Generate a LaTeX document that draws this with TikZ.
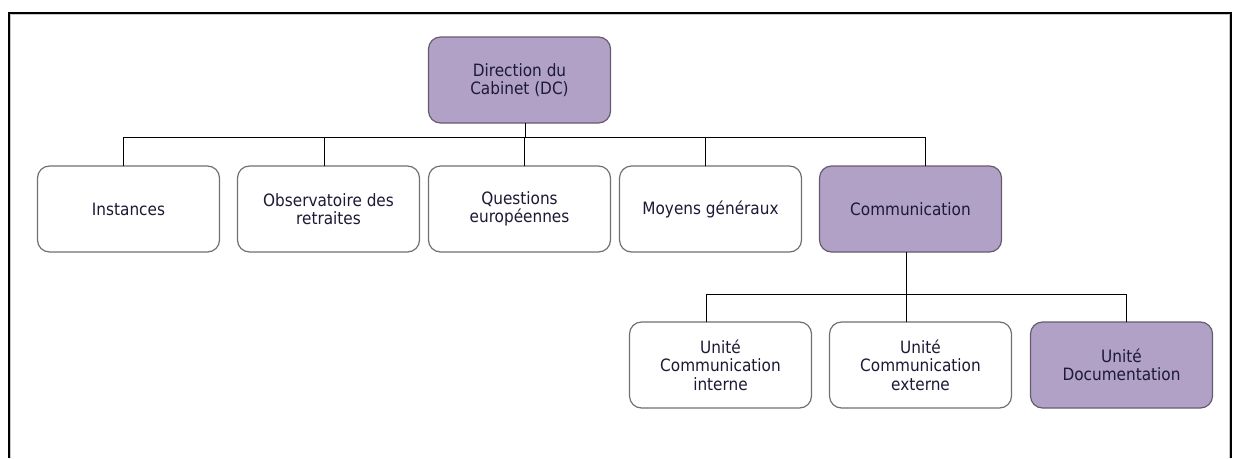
\documentclass[tikz,border=0pt]{standalone}
\usepackage{fontspec}
\setmainfont{DejaVu Sans Condensed}
\usepackage{tikz}
\usetikzlibrary{positioning}

\definecolor{dcpurple}{RGB}{177,161,199}
\definecolor{dcborder}{RGB}{100,92,110}
\definecolor{boxborder}{RGB}{112,112,112}
\definecolor{dctext}{RGB}{28,26,52}

\begin{document}
\begin{tikzpicture}[
  x=1pt, y=1pt,
  every node/.style={rectangle, rounded corners=12pt, draw=boxborder, line width=1.2pt,
    align=center, minimum width=182pt, minimum height=86pt, inner sep=0pt, outer sep=0pt,
    text=dctext, font=\fontsize{17}{18.5}\selectfont},
  unit/.style={fill=white},
  lead/.style={fill=dcpurple, draw=dcborder},
  link/.style={draw=black, line width=0.9pt}
]
\useasboundingbox (0,0) rectangle (1238,-458);

% Frame
\draw[gray!45, line width=1pt] (10.8,-458) -- (10.8,-14.2) -- (1229.2,-14.2) -- (1229.2,-458);
\draw[black, line width=2pt] (9.3,-458) -- (9.3,-12.7) -- (1230.7,-12.7) -- (1230.7,-458);

% Nodes
\node[lead] (dc) at (519.5,-80) {Direction du\\Cabinet (DC)};

\node[unit, below=43pt of dc] (questions) {Questions\\europ\'eennes};
\node[unit, left=9pt of questions] (observatoire) {Observatoire des\\retraites};
\node[unit, left=18pt of observatoire] (instances) {Instances};
\node[unit, right=9pt of questions] (moyens) {Moyens g\'en\'eraux};
\node[lead, right=18pt of moyens] (communication) {Communication};

\node[unit, below=70pt of communication, xshift=10pt] (externe) {Unit\'e\\Communication\\externe};
\node[unit, left=18pt of externe] (interne) {Unit\'e\\Communication\\interne};
\node[lead, right=19pt of externe] (documentation) {Unit\'e\\Documentation};

% Lines
\draw[link] ([xshift=5.5pt]dc.south) -- ++(0,-14) coordinate (bus);
\draw[link] ([xshift=-5pt]instances.north) |- (bus);
\draw[link] ([xshift=-4pt]observatoire.north) |- (bus);
\draw[link] ([xshift=5pt]questions.north) |- (bus);
\draw[link] ([xshift=-5pt]moyens.north) |- (bus);
\draw[link] ([xshift=15pt]communication.north) |- (bus);

\draw[link] ([xshift=-4.5pt]communication.south) -- ++(0,-42.5) coordinate (bustwo);
\draw[link] ([xshift=-14.5pt]interne.north) |- (bustwo);
\draw[link] ([xshift=-14.5pt]externe.north) |- (bustwo);
\draw[link] ([xshift=5pt]documentation.north) |- (bustwo);

\end{tikzpicture}
\end{document}
